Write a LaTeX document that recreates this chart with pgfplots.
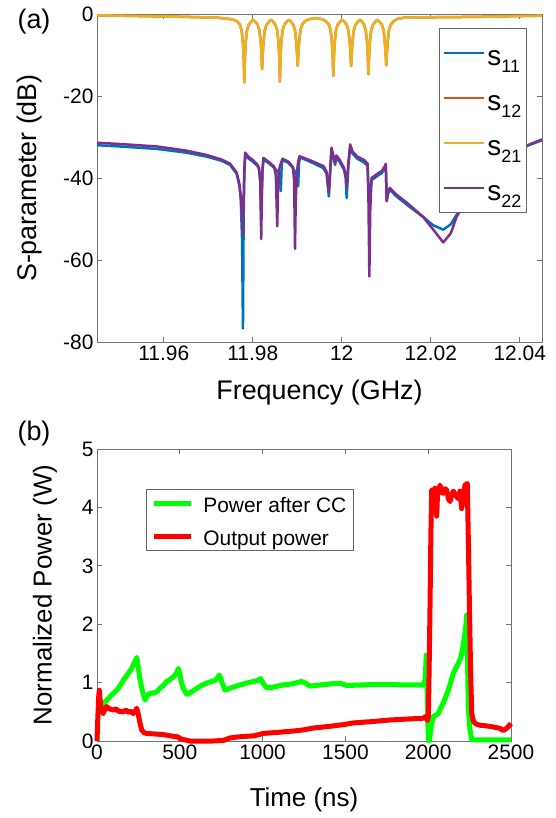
\documentclass[border=0pt]{standalone}
\usepackage{fontspec}
\setmainfont{Liberation Sans}
\usepackage{pgfplots}
\usepackage{pgfplotstable}
\pgfplotsset{compat=1.18}

\definecolor{c11}{rgb}{0,0.447,0.741}
\definecolor{c12}{rgb}{0.85,0.325,0.098}
\definecolor{c21}{rgb}{0.929,0.694,0.125}
\definecolor{c22}{rgb}{0.494,0.184,0.556}
\definecolor{axgray}{gray}{0.45}

\newcommand{\sname}[1]{\rule{0pt}{26bp}s\raisebox{-7.5bp}{\fontsize{18}{18}\selectfont #1}}

\pgfplotsset{
  every axis/.append style={
    scale only axis, clip=false,
    axis line style={axgray, line width=1bp},
    every tick/.style={axgray, line width=1bp},
    major tick length=5bp,
    tick align=inside,
    tick label style={font=\fontsize{21}{25}\selectfont, black},
    label style={font=\fontsize{27}{32}\selectfont},
  },
}

% s21 (and s12, which lies under it)
\pgfplotstableread{
f db
11.9450 -0.3
11.9550 -0.5
11.9650 -0.7
11.9720 -0.9
11.9755 -1.3
11.9765 -1.8
11.9771 -2.6
11.9775 -4.0
11.9778 -7
11.97798 -11
11.9781 -16.7
11.97822 -11
11.9784 -7
11.9787 -4.0
11.9791 -2.6
11.9797 -1.8
11.9801 -1.4
11.9805 -1.8
11.9811 -2.6
11.9815 -4.0
11.9818 -7
11.98198 -10
11.9821 -13.5
11.98222 -10
11.9824 -7
11.9827 -4.0
11.9831 -2.6
11.9837 -1.8
11.9841 -1.4
11.9845 -1.8
11.9851 -2.6
11.9855 -4.0
11.9858 -7
11.98598 -11
11.9861 -16.5
11.98622 -11
11.9864 -7
11.9867 -4.0
11.9871 -2.6
11.9877 -1.8
11.9881 -1.4
11.9885 -1.8
11.9891 -2.6
11.9895 -4.0
11.9898 -7
11.98998 -10
11.9901 -12.6
11.99022 -10
11.9904 -7
11.9907 -4.0
11.9911 -2.6
11.9917 -1.8
11.9925 -1.3
11.9941 -1.0
11.9957 -1.3
11.9965 -1.8
11.9971 -2.6
11.9975 -4.0
11.9978 -7
11.99798 -11
11.9981 -15.1
11.99822 -11
11.9984 -7
11.9987 -4.0
11.9991 -2.6
11.9997 -1.8
12.0001 -1.4
12.0005 -1.8
12.0011 -2.6
12.0015 -4.0
12.0018 -7
12.00198 -10
12.0021 -12.6
12.00222 -10
12.0024 -7
12.0027 -4.0
12.0031 -2.6
12.0037 -1.8
12.0041 -1.4
12.0045 -1.8
12.0050 -2.6
12.0054 -4.0
12.0057 -7
12.00588 -11
12.0060 -14.7
12.00612 -11
12.0063 -7
12.0066 -4.0
12.0070 -2.6
12.0076 -1.8
12.0080 -1.4
12.0084 -1.8
12.0090 -2.6
12.0094 -4.0
12.0097 -7
12.00988 -10
12.0100 -12.5
12.01012 -10
12.0103 -7
12.0106 -4.0
12.0110 -2.6
12.0116 -1.8
12.0125 -1.2
12.0140 -0.9
12.0200 -0.8
12.0300 -0.7
12.0450 -0.4
}\stwoone

\begin{document}
\begin{tikzpicture}
\useasboundingbox (0,0) rectangle (556bp,-818bp);

\node[font=\fontsize{27}{32}\selectfont] at (34bp,-22bp) {(a)};
\node[font=\fontsize{27}{32}\selectfont] at (34bp,-434bp) {(b)};

% ---------- (a) S-parameters ----------
\begin{axis}[
  at={(97bp,-342bp)}, anchor=south west,
  width=445bp, height=328bp,
  xmin=11.945, xmax=12.045, ymin=-80, ymax=0,
  xtick={11.96,11.98,12,12.02,12.04},
  xticklabels={11.96,11.98,12,12.02,12.04},
  ytick={-80,-60,-40,-20,0},
  yticklabels={-80,-60,-40,-20,0},
  xlabel={Frequency (GHz)}, ylabel={S-parameter (dB)},
  xlabel style={at={(axis description cs:0.5,-0.155)}, anchor=center},
  ylabel style={at={(axis description cs:-0.151,0.5)}, anchor=center},
  legend cell align=left,
  legend style={at={(axis description cs:0.966,0.957)}, anchor=north east,
    draw=black!60, line width=1bp, inner xsep=3bp, inner ysep=8.5bp,
    row sep=13.5bp, font=\fontsize{28}{30}\selectfont},
  legend image code/.code={\draw[#1] (0bp,0bp) -- (40bp,0bp);},
]
\addplot[c11, line width=2.5bp, line join=round] coordinates {
(11.9450,-32.0) (11.9500,-32.3) (11.9584,-32.9) (11.9650,-33.8) (11.9697,-34.8)
(11.9730,-35.8) (11.9749,-36.8) (11.9764,-39.0) (11.9770,-42) (11.9773,-45)
(11.9776,-55) (11.9778,-76.7) (11.97795,-50) (11.9781,-40) (11.9783,-34.3)
(11.9790,-35.2) (11.9800,-36.0) (11.9810,-37.0) (11.9814,-37.8) (11.9817,-41)
(11.9819,-50) (11.98205,-43) (11.9822,-38) (11.9824,-35.5) (11.9835,-36.3)
(11.9848,-37.5) (11.9855,-38.3) (11.9860,-39.5) (11.9863,-43.2) (11.9865,-37)
(11.9867,-35.6) (11.9880,-36.3) (11.9890,-37.5) (11.9895,-38.5) (11.9900,-39.5)
(11.9902,-42) (11.9904,-36.5) (11.9906,-35.0) (11.9920,-35.6) (11.9940,-36.6)
(11.9959,-37.6) (11.9966,-39) (11.9971,-44.5) (11.9974,-38.5) (11.9977,-33.4)
(11.9981,-35) (11.9985,-36.8) (11.9988,-35) (11.9995,-36) (12.0005,-38)
(12.0009,-40) (12.0011,-44.9) (12.0015,-37) (12.0019,-32.3) (12.0022,-33.3)
(12.0024,-34) (12.0035,-35.3) (12.0050,-36.2) (12.0058,-37) (12.0060,-42)
(12.0062,-48) (12.0064,-44) (12.0067,-40.5) (12.0080,-39.5) (12.0090,-38.8)
(12.0097,-37.6) (12.0099,-37) (12.0101,-45.5) (12.0104,-43.8) (12.0108,-42.8)
(12.0120,-44.2) (12.0146,-46.5) (12.0183,-49.5) (12.0205,-51.5) (12.0228,-52.6)
(12.0245,-51.3) (12.0258,-49) (12.0290,-43.8) (12.0320,-39.8) (12.0360,-36)
(12.0400,-33.2) (12.0420,-32.0) (12.0450,-30.8)
};
\addlegendentry{\sname{11}}
\addplot[c12, line width=2.5bp, line join=round] table[x=f, y=db] {\stwoone};
\addlegendentry{\sname{12}}
\addplot[c21, line width=2.5bp, line join=round] table[x=f, y=db] {\stwoone};
\addlegendentry{\sname{21}}
\addplot[c22, line width=2.5bp, line join=round] coordinates {
(11.9450,-31.4) (11.9500,-31.7) (11.9584,-32.3) (11.9650,-33.3) (11.9697,-34.4)
(11.9730,-35.5) (11.9749,-36.5) (11.9764,-38.7) (11.9770,-41.5) (11.9773,-44.4)
(11.9776,-49) (11.9778,-53.8) (11.97795,-45) (11.9781,-38) (11.9783,-33.8)
(11.9790,-34.8) (11.9800,-35.6) (11.9810,-36.7) (11.9814,-37.5) (11.9817,-41)
(11.9819,-54.9) (11.98205,-44) (11.9822,-38) (11.9824,-35.1) (11.9835,-36)
(11.9848,-37.2) (11.9852,-39.5) (11.9855,-51.8) (11.98565,-44) (11.9859,-38)
(11.9862,-36.8) (11.9867,-35.3) (11.9880,-36.0) (11.9890,-37.3) (11.9893,-40.5)
(11.9895,-57.3) (11.98965,-46) (11.9899,-39) (11.9902,-36) (11.9905,-34.7)
(11.9920,-35.3) (11.9940,-36.2) (11.9959,-37.1) (11.9966,-38.5) (11.9971,-43.6)
(11.9974,-38) (11.9977,-32.6) (11.9981,-34.5) (11.9985,-36.3) (11.9988,-34.5)
(11.9995,-35.5) (12.0005,-37.5) (12.0009,-39.5) (12.0011,-42.4) (12.0015,-36)
(12.0019,-31.8) (12.0022,-32.8) (12.0024,-33.5) (12.0035,-34.8) (12.0050,-35.6)
(12.0058,-36.5) (12.0060,-45) (12.0062,-64) (12.0064,-48) (12.0067,-40.0)
(12.0080,-39.0) (12.0090,-38.3) (12.0097,-37.1) (12.0099,-36.5) (12.0101,-45.7)
(12.0104,-43.5) (12.0108,-42.4) (12.0120,-43.8) (12.0146,-46.0) (12.0183,-49.5)
(12.0205,-52.5) (12.0228,-55.7) (12.0245,-53.5) (12.0258,-49.5) (12.0290,-43.5)
(12.0320,-39.5) (12.0360,-35.8) (12.0400,-33.0) (12.0420,-31.9) (12.0450,-30.6)
};
\addlegendentry{\sname{22}}
\end{axis}

% ---------- (b) power ----------
\begin{axis}[
  at={(97bp,-741bp)}, anchor=south west,
  width=414bp, height=292bp,
  xmin=0, xmax=2500, ymin=0, ymax=5,
  xtick={0,500,1000,1500,2000,2500},
  xticklabels={0,500,1000,1500,2000,2500},
  ytick={0,1,2,3,4,5},
  yticklabels={0,1,2,3,4,5},
  xlabel={Time (ns)}, ylabel={Normalized Power (W)},
  label style={font=\fontsize{26}{30}\selectfont},
  xlabel style={at={(axis description cs:0.5,-0.202)}, anchor=center},
  ylabel style={at={(axis description cs:-0.1256,0.5)}, anchor=center},
  legend cell align=left,
  legend style={at={(axis description cs:0.118,0.863)}, anchor=north west,
    draw=black!60, line width=1bp, inner xsep=5bp, inner ysep=1bp,
    row sep=8bp, font=\fontsize{21}{25}\selectfont,
    /tikz/every odd column/.append style={column sep=8bp}},
  legend image code/.code={\draw[#1] (0bp,0bp) -- (37bp,0bp);},
]
\addplot[green, line width=5bp, line join=round] coordinates {
(20,0.55) (38,0.65) (60,0.70) (79,0.76) (100,0.82) (119,0.87) (140,0.95) (159,1.04)
(175,1.10) (189,1.16) (205,1.22) (219,1.30) (232,1.38) (240,1.43) (250,1.25) (260,1.04)
(275,0.85) (290,0.70) (305,0.78) (320,0.82) (340,0.82) (360,0.84) (380,0.90) (400,0.95)
(421,1.02) (440,1.05) (461,1.10) (478,1.15) (491,1.24) (500,1.15) (511,0.99) (525,0.88)
(542,0.80) (570,0.84) (602,0.90) (630,0.95) (662,0.99) (690,1.02) (713,1.04) (728,1.08)
(739,1.13) (755,1.00) (773,0.87) (800,0.90) (830,0.93) (864,0.96) (900,0.99) (945,1.02)
(975,1.04) (988,1.07) (1005,0.98) (1025,0.91) (1060,0.92) (1125,0.96) (1180,0.98)
(1236,1.02) (1260,0.99) (1286,0.94) (1350,0.96) (1420,0.98) (1467,0.99) (1490,0.97)
(1508,0.95) (1600,0.96) (1700,0.97) (1769,0.97) (1850,0.96) (1930,0.96) (1970,0.96)
(1982,1.05) (1988,1.47) (1993,1.0) (1998,0.3) (2003,0.0) (2008,0.02) (2018,0.25)
(2031,0.42) (2045,0.44) (2061,0.47) (2075,0.56) (2091,0.65) (2105,0.75) (2121,0.87)
(2135,1.0) (2152,1.16) (2167,1.25) (2182,1.33) (2195,1.42) (2202,1.50) (2212,1.65)
(2222,1.84) (2228,2.0) (2233,2.16) (2238,1.3) (2242,0.58) (2252,0.2) (2263,0.02)
(2300,0.02) (2400,0.02) (2500,0.02)
};
\addlegendentry{\rule{0pt}{20bp}Power after CC}
\addplot[red, line width=5bp, line join=round] coordinates {
(0,0) (5,0.4) (10,0.75) (14,0.87) (22,0.6) (30,0.50) (38,0.47) (48,0.55) (58,0.59)
(75,0.55) (99,0.53) (115,0.55) (130,0.51) (159,0.50) (175,0.53) (190,0.49) (205,0.51)
(219,0.47) (232,0.52) (240,0.56) (250,0.45) (260,0.30) (270,0.19) (285,0.14) (300,0.13)
(350,0.12) (400,0.11) (461,0.08) (490,0.07) (501,0.04) (530,0.02) (562,0.0) (650,0.0)
(700,0.0) (763,0.01) (800,0.05) (850,0.07) (950,0.09) (1004,0.13) (1100,0.15)
(1180,0.17) (1246,0.19) (1300,0.22) (1400,0.25) (1487,0.28) (1550,0.31) (1650,0.33)
(1769,0.36) (1900,0.38) (1970,0.39) (1985,0.42) (1995,0.35) (2001,0.42) (2006,1.3)
(2011,2.3) (2016,3.5) (2021,4.30) (2031,4.25) (2041,4.33) (2046,4.0) (2051,3.85)
(2056,4.2) (2071,4.38) (2081,4.28) (2091,4.24) (2101,4.32) (2111,4.30) (2122,4.15)
(2132,4.10) (2142,4.22) (2152,4.28) (2167,4.20) (2182,4.15) (2192,4.28) (2202,3.98)
(2212,4.15) (2222,4.38) (2236,4.41) (2242,3.5) (2249,2.30) (2256,1.2) (2263,0.47)
(2272,0.35) (2283,0.30) (2300,0.28) (2313,0.27) (2350,0.26) (2393,0.24) (2430,0.22)
(2454,0.18) (2475,0.22) (2500,0.30)
};
\addlegendentry{\rule{0pt}{20bp}Output power}
\end{axis}
\end{tikzpicture}
\end{document}
